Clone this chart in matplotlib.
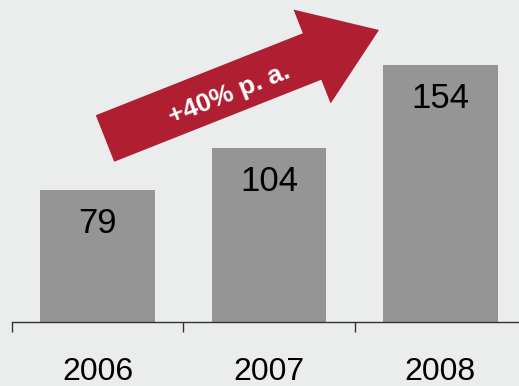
import matplotlib
matplotlib.use("Agg")
import matplotlib.pyplot as plt
from matplotlib.patches import FancyArrow
import numpy as np

years = ["2006", "2007", "2008"]
values = [79, 104, 154]
growth_label = "+40% p. a."

bg = "#ebecec"
bar_color = "#959595"
arrow_color = "#b01f31"

plt.rcParams["font.family"] = ["Liberation Sans", "DejaVu Sans"]

W, H, DPI = 519, 386, 100
fig = plt.figure(figsize=(W / DPI, H / DPI), dpi=DPI, facecolor=bg)
ax = fig.add_axes([12 / W, 64 / H, 514 / W, 322 / H])
ax.set_facecolor(bg)

x = np.arange(len(years))
ax.bar(x, values, width=0.67, color=bar_color)

for xi, v in zip(x, values):
    ax.annotate(str(v), (xi, v), xytext=(0, -24), textcoords="offset points",
                ha="center", va="center", fontsize=25, color="black")

ax.set_xlim(-0.5, len(years) - 0.5)
ax.set_ylim(0, 193)

for side in ("left", "right", "top"):
    ax.spines[side].set_visible(False)
ax.spines["bottom"].set_color("#333333")
ax.spines["bottom"].set_linewidth(1.0)

ax.set_yticks([])
ax.set_xticks(x)
ax.set_xticklabels(years, fontsize=23)
ax.tick_params(axis="x", which="major", length=0, pad=25)
ax.set_xticks(np.arange(len(years) + 1) - 0.5, minor=True)
ax.tick_params(axis="x", which="minor", length=7, width=1.0, color="#333333", direction="out")

# growth arrow, laid out in inches so that its shape stays undistorted
tail = np.array([105, 138.5])
tip = np.array([379, 30])
d = tip - tail
to_in = lambda px, py: (px / DPI, (H - py) / DPI)
tx, ty = to_in(*tail)
ex, ey = to_in(*tip)
arrow = FancyArrow(tx, ty, ex - tx, ey - ty, width=50 / DPI, head_width=101 / DPI,
                   head_length=72 / DPI, length_includes_head=True,
                   color=arrow_color, linewidth=0, transform=fig.dpi_scale_trans)
fig.add_artist(arrow)

angle = np.degrees(np.arctan2(-d[1], d[0]))
cx, cy = to_in(229, 94)
fig.text(cx, cy, growth_label, transform=fig.dpi_scale_trans, rotation=angle,
         rotation_mode="anchor", ha="center", va="center", fontsize=19,
         fontweight="bold", color="white")

fig.savefig("out.png", dpi=DPI, facecolor=bg)
